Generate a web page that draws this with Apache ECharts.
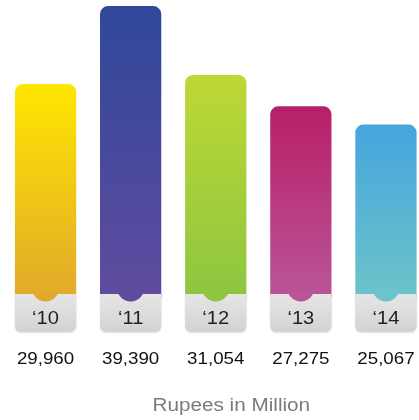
<!DOCTYPE html>
<html>
<head>
<meta charset="utf-8">
<script src="https://cdn.jsdelivr.net/npm/echarts@6/dist/echarts.min.js"></script>
<style>
  html, body { margin: 0; padding: 0; background: #fff; }
  #chart { width: 419px; height: 420px; }
</style>
</head>
<body>
<div id="chart"></div>
<script>
// Fiscal years and revenue (Rupees in Million)
const years = ['‘10', '‘11', '‘12', '‘13', '‘14'];
const revenue = [29960, 39390, 31054, 27275, 25067];

// Per-bar gradient palette (top -> bottom)
const topColors = ['#FFE600', '#2F4899', '#BED835', '#B71F67', '#46A5DC'];
const bottomColors = ['#E1A92B', '#604B9F', '#8DC641', '#BA5598', '#6CC4CB'];

const FONT = '"Liberation Sans", Arial, Helvetica, sans-serif';
const STRETCH = 1.15;

function withCommas(v) {
  return String(v).replace(/\B(?=(\d{3})+(?!\d))/g, ',');
}

// Rounded notch hanging from the top edge of the year tab
function notchPoints(cx, edgeY, r, depth) {
  const cy = edgeY + depth - r;
  const a0 = Math.asin((edgeY - cy) / r);
  const pts = [];
  const steps = 24;
  for (let k = 0; k <= steps; k++) {
    const a = a0 + (Math.PI - 2 * a0) * k / steps;
    pts.push([cx + r * Math.cos(a), cy + r * Math.sin(a)]);
  }
  pts.push([cx - r * Math.cos(a0), edgeY - 1]);
  pts.push([cx + r * Math.cos(a0), edgeY - 1]);
  return pts;
}

function renderBar(params, api) {
  const i = api.value(0);
  const v = api.value(1);
  const top = api.coord([i, v]);
  const base = api.coord([i, 0]);
  const w = api.size([1, 0])[0] * 0.72;
  const cx = top[0];
  const x = cx - w / 2;
  const tabH = 38;
  const tabTop = base[1] - tabH;

  return {
    type: 'group',
    children: [
      {
        type: 'rect',
        shape: { x: x, y: top[1], width: w, height: tabTop - top[1] + 4, r: [8, 8, 0, 0] },
        style: {
          fill: new echarts.graphic.LinearGradient(0, 0, 0, 1, [
            { offset: 0, color: topColors[i] },
            { offset: 1, color: bottomColors[i] }
          ])
        }
      },
      {
        type: 'rect',
        shape: { x: x, y: tabTop, width: w, height: tabH, r: [0, 0, 6, 6] },
        style: {
          fill: new echarts.graphic.LinearGradient(0, 0, 0, 1, [
            { offset: 0, color: '#E6E6E7' },
            { offset: 1, color: '#D1D2D4' }
          ]),
          shadowBlur: 2,
          shadowOffsetY: 1,
          shadowColor: 'rgba(0,0,0,0.12)'
        }
      },
      {
        type: 'polygon',
        shape: { points: notchPoints(cx, tabTop, 13.6, 7.5) },
        style: { fill: bottomColors[i] }
      },
      {
        type: 'text',
        x: cx,
        y: base[1] - 12.8,
        scaleX: STRETCH,
        style: {
          text: years[i],
          x: 0, y: 0,
          fill: '#231F20',
          fontSize: 17.5,
          fontFamily: FONT,
          align: 'center',
          verticalAlign: 'middle'
        }
      },
      {
        type: 'text',
        x: cx,
        y: base[1] + 27.3,
        scaleX: STRETCH,
        style: {
          text: withCommas(v),
          x: 0, y: 0,
          fill: '#111111',
          fontSize: 16.3,
          fontFamily: FONT,
          align: 'center',
          verticalAlign: 'middle'
        }
      }
    ]
  };
}

const chart = echarts.init(document.getElementById('chart'), null, { renderer: 'canvas' });
chart.setOption({
  animation: false,
  grid: { left: 3, top: 1, right: 0, bottom: 88, containLabel: false },
  // value axis spanning 4.888 bands so each year band is ~85px wide
  xAxis: { type: 'value', min: -0.5, max: 4.3884, show: false },
  yAxis: { type: 'value', min: 0, max: 40000, show: false },
  graphic: [{
    type: 'text',
    x: 231.3,
    y: 406.3,
    scaleX: STRETCH,
    style: {
      text: 'Rupees in Million',
      x: 0, y: 0,
      fill: '#7B7B7B',
      fontSize: 18,
      fontFamily: FONT,
      align: 'center',
      verticalAlign: 'middle'
    }
  }],
  series: [{
    type: 'custom',
    clip: false,
    data: revenue.map((v, i) => [i, v]),
    encode: { x: 0, y: 1 },
    renderItem: renderBar
  }]
});
</script>
</body>
</html>
